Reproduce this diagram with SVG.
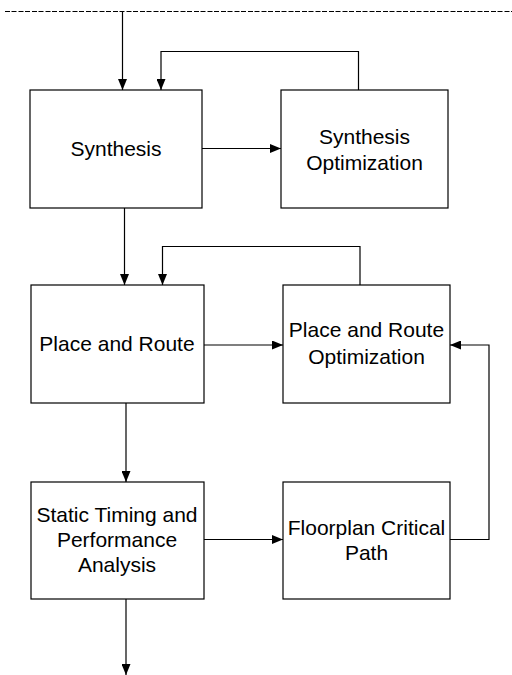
<svg xmlns="http://www.w3.org/2000/svg" width="512" height="675" viewBox="0 0 512 675">
<defs>
<style>
.box{fill:#fff;stroke:#000;stroke-width:1.2}
.t{font-family:"Liberation Sans",Arial,sans-serif;font-size:21px;fill:#000;text-anchor:middle}
.c{fill:none;stroke:#000;stroke-width:1.2}
</style>
<marker id="ah" markerWidth="11" markerHeight="9" refX="11" refY="4.5" orient="auto" markerUnits="userSpaceOnUse">
<path d="M0,0 L11,4.5 L0,9 Z" fill="#000"/>
</marker>
</defs>
<rect width="512" height="675" fill="#fff"/>
<line x1="5" y1="11.5" x2="512" y2="11.5" stroke="#000" stroke-width="1" stroke-dasharray="5,1.5,5,2"/>
<g id="connectors">
<path class="c" d="M122.5,11.5 V90" marker-end="url(#ah)"/>
<path class="c" d="M358.5,90 V51.5 H161 V90" marker-end="url(#ah)"/>
<path class="c" d="M202,148.5 H281" marker-end="url(#ah)"/>
<path class="c" d="M124.5,208 V285" marker-end="url(#ah)"/>
<path class="c" d="M360,285 V246.5 H162.5 V285" marker-end="url(#ah)"/>
<path class="c" d="M204,345 H283" marker-end="url(#ah)"/>
<path class="c" d="M126,403 V482" marker-end="url(#ah)"/>
<path class="c" d="M204,539.5 H283" marker-end="url(#ah)"/>
<path class="c" d="M450,539.5 H489 V345 H450" marker-end="url(#ah)"/>
<path class="c" d="M126,599 V675" marker-end="url(#ah)"/>
</g>
<g id="synthesis">
<rect class="box" x="30" y="90" width="172" height="118"/>
<text class="t" x="116" y="156">Synthesis</text>
</g>
<g id="synthesis-opt">
<rect class="box" x="281" y="90" width="167" height="118"/>
<text class="t" x="364.5" y="144">Synthesis</text>
<text class="t" x="364.5" y="170">Optimization</text>
</g>
<g id="place-route">
<rect class="box" x="31" y="285" width="173" height="118"/>
<text class="t" x="117" y="351">Place and Route</text>
</g>
<g id="place-route-opt">
<rect class="box" x="283" y="285" width="167" height="118"/>
<text class="t" x="366.5" y="337">Place and Route</text>
<text class="t" x="366.5" y="364">Optimization</text>
</g>
<g id="static-timing">
<rect class="box" x="31" y="482" width="173" height="117"/>
<text class="t" x="117" y="522">Static Timing and</text>
<text class="t" x="117" y="547">Performance</text>
<text class="t" x="117" y="572">Analysis</text>
</g>
<g id="floorplan">
<rect class="box" x="283" y="482" width="167" height="117"/>
<text class="t" x="366.5" y="535">Floorplan Critical</text>
<text class="t" x="366.5" y="560">Path</text>
</g>
</svg>
